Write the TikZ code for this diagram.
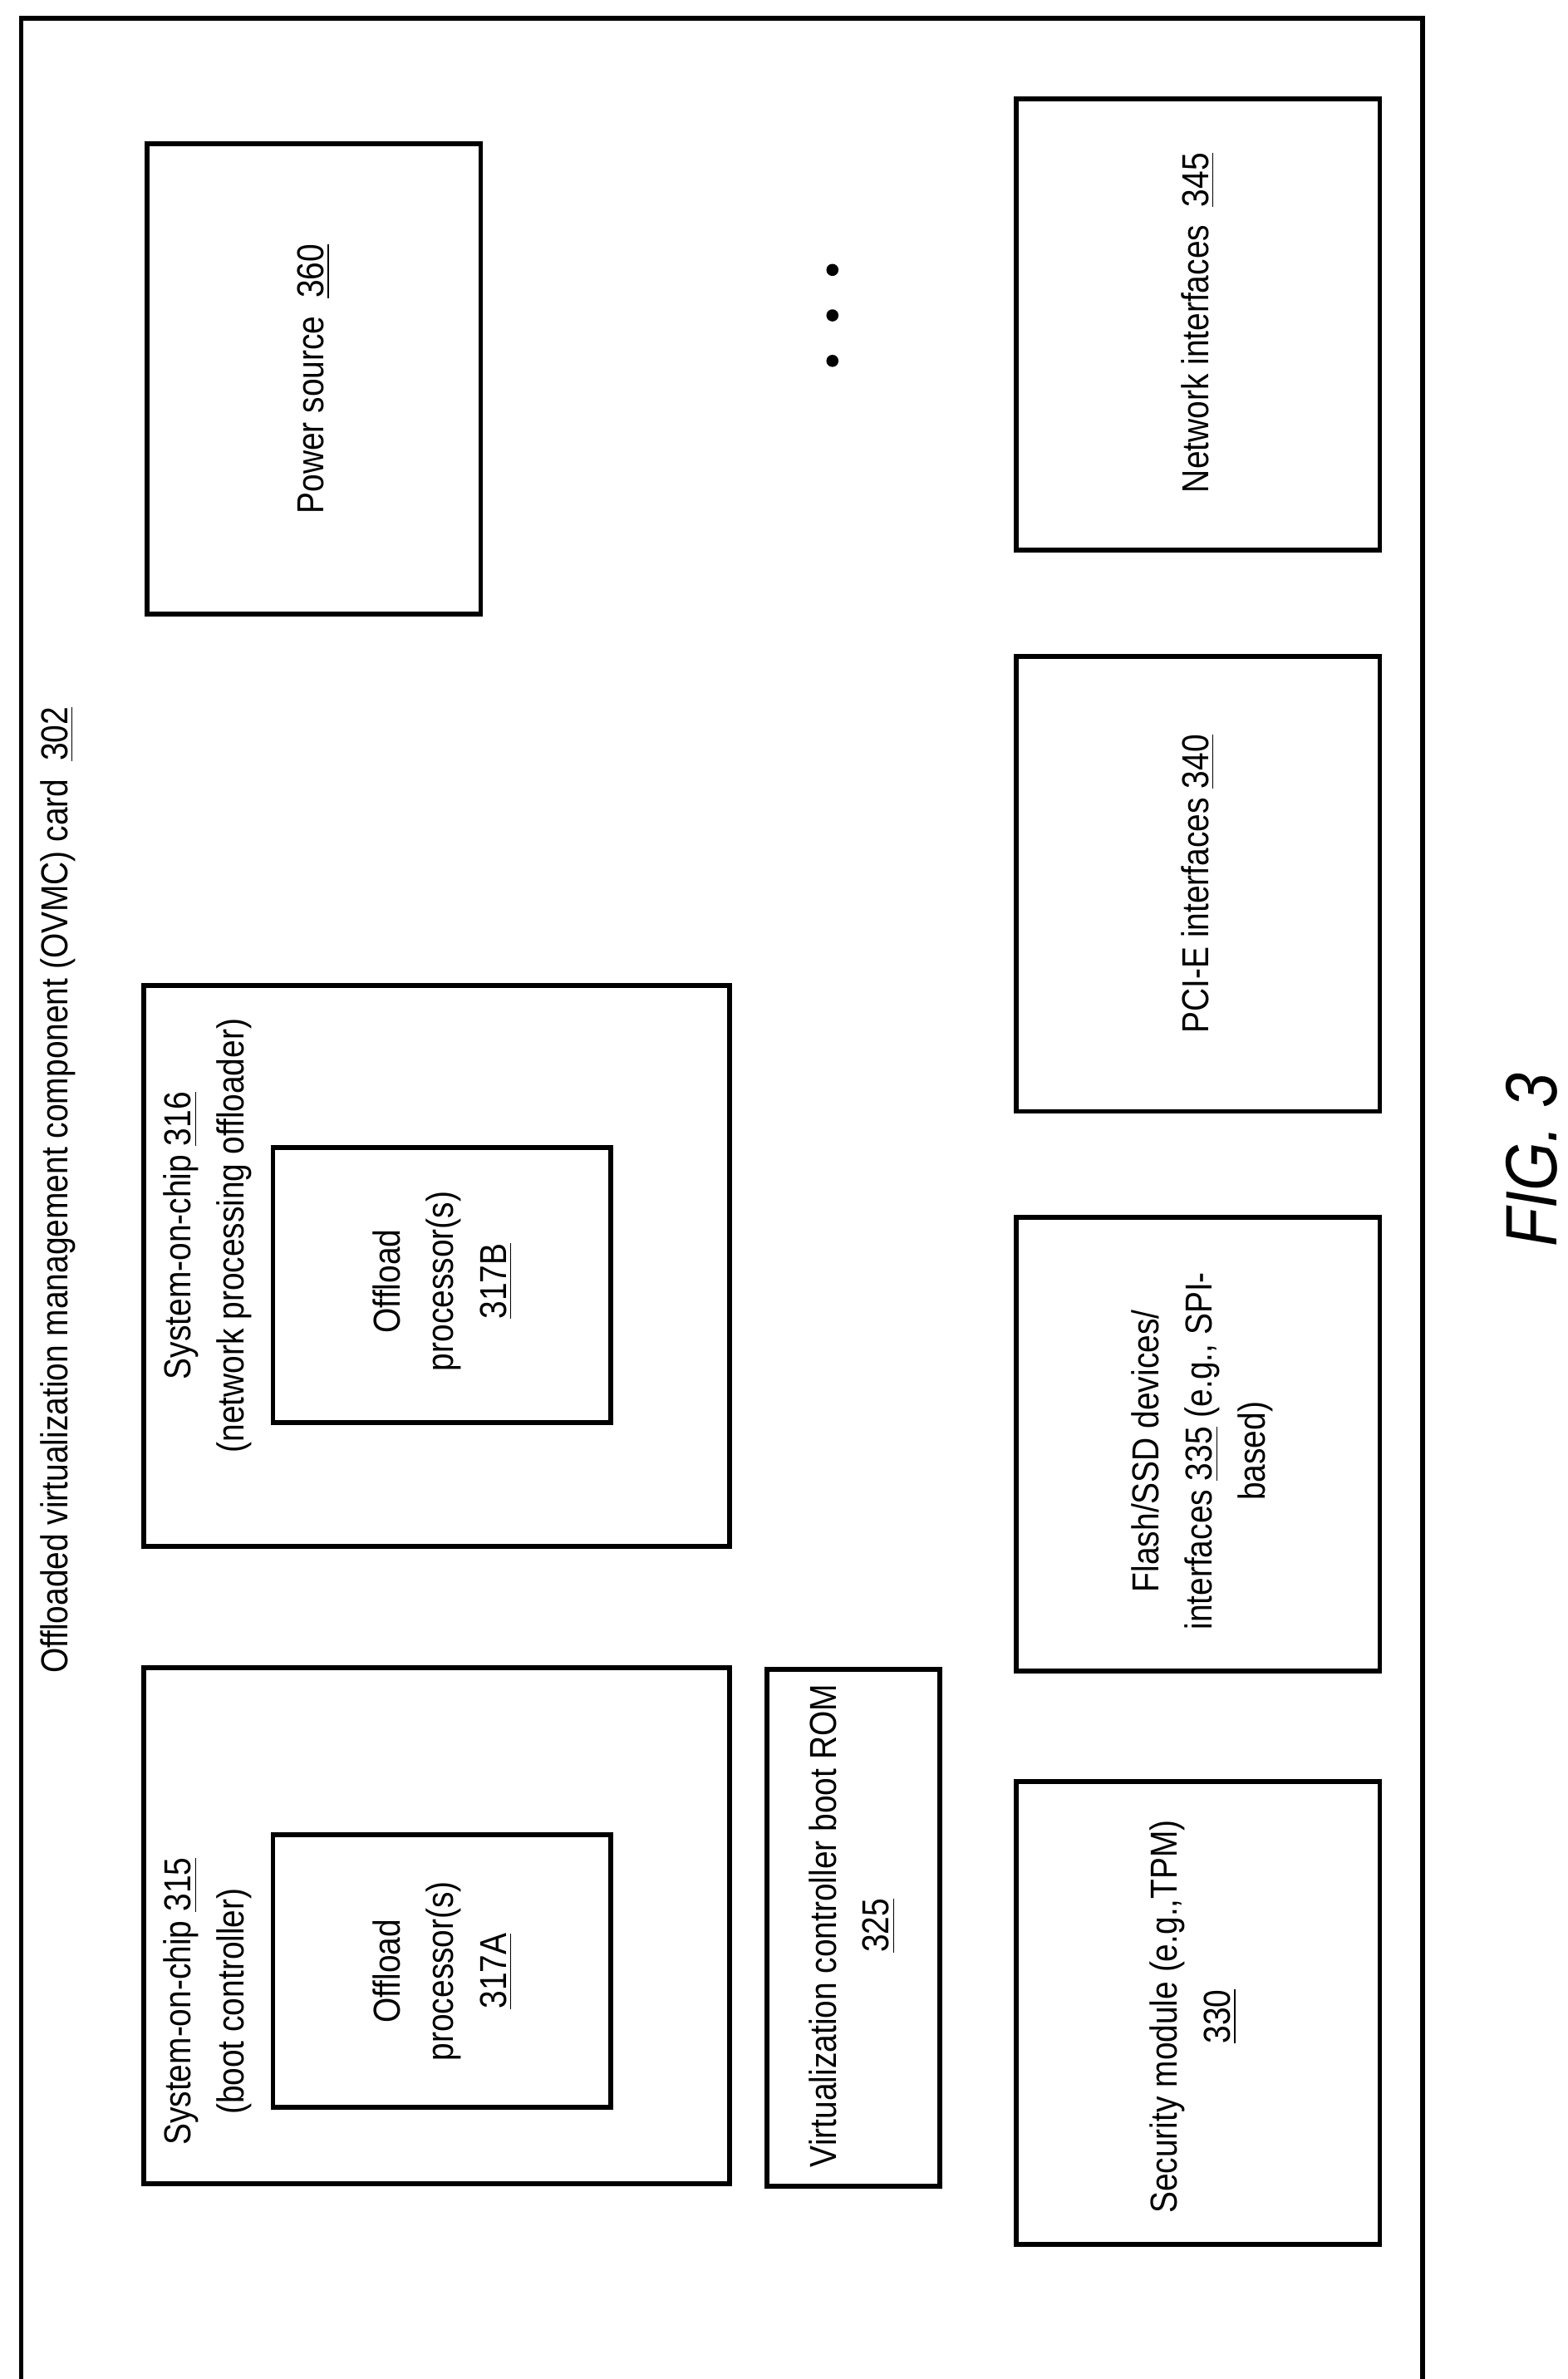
\documentclass[tikz,border=0pt]{standalone}
\usepackage{fontspec}
\setmainfont{Liberation Sans}[FakeStretch=0.86]
\begin{document}
\begin{tikzpicture}[x=0.5pt,y=-0.5pt,
 bx/.style={draw,line width=1.6pt},
 tx/.style={rotate=90,align=center,font=\fontsize{12.4}{17.5}\selectfont,inner sep=0pt}]
\useasboundingbox (0,0) rectangle (1034,1569);
\draw[bx] (14,12) rectangle (938,1585);
\draw[bx] (97,95) rectangle (317,405);
\draw[bx] (670,65) rectangle (910,363);
\draw[bx] (670,433) rectangle (910,733);
\draw[bx] (95,650) rectangle (481,1020);
\draw[bx] (180,757) rectangle (403,938);
\draw[bx] (670,803) rectangle (910,1102);
\draw[bx] (95,1100) rectangle (481,1440);
\draw[bx] (180,1210) rectangle (403,1390);
\draw[bx] (506,1101) rectangle (620,1442);
\draw[bx] (670,1175) rectangle (910,1480);
\foreach \yy in {178,208,238} \fill (549,\yy) circle (2pt);
\node[tx] (ovmc) at (38,785) {Offloaded virtualization management component (OVMC) card\ \ \underline{302}};
\node[tx] (pwt) at (207,250) {Power source\ \ \underline{360}};
\node[tx] (nt) at (790,213) {Network interfaces\ \ \underline{345}};
\node[tx] (pt) at (790,583) {PCI-E interfaces \underline{340}};
\node[tx] (s16) at (137,815) {System-on-chip \underline{316}\\(network processing offloader)};
\node[tx] (p17b) at (292,845) {Offload\\processor(s)\\\underline{317B}};
\node[tx] (ft) at (793,957) {Flash/SSD devices/\\interfaces \underline{335} (e.g., SPI-\\based)};
\node[tx] (s15) at (137,1320) {System-on-chip \underline{315}\\(boot controller)};
\node[tx] (p17a) at (292,1300) {Offload\\processor(s)\\\underline{317A}};
\node[tx] (vc) at (562,1270) {Virtualization controller boot ROM\\\underline{325}};
\node[tx] (sec) at (787,1330) {Security module (e.g.,TPM)\\\underline{330}};
\node[rotate=90,font=\fontsize{24}{28}\selectfont\itshape] (fig) at (1010,765) {FIG. 3};
\end{tikzpicture}
\end{document}
